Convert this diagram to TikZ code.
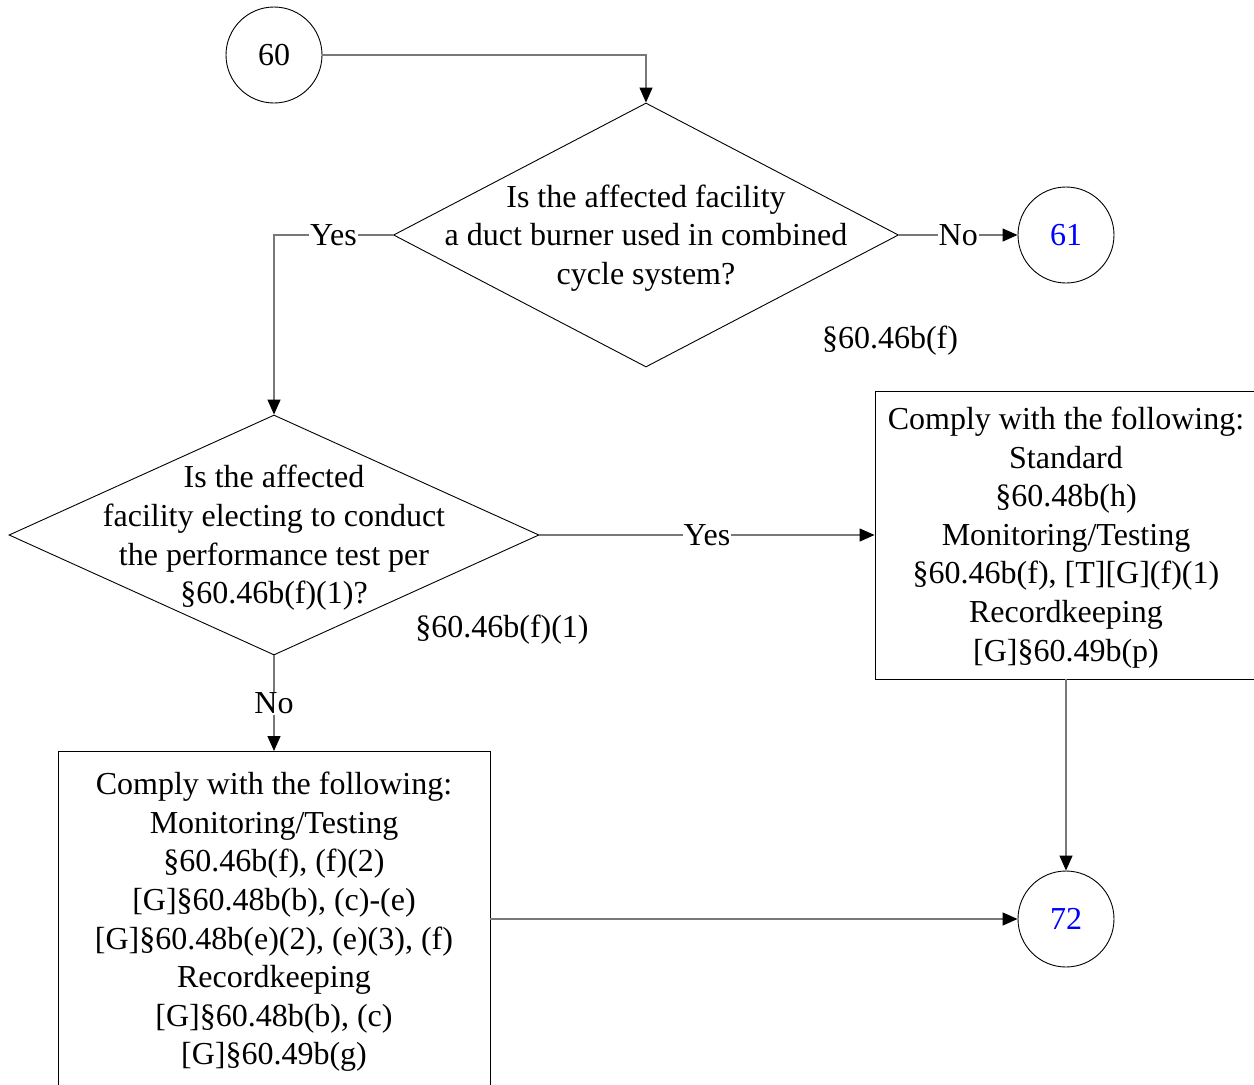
\documentclass[tikz,border=0pt]{standalone}
\usepackage{fontspec}
\setmainfont{Liberation Serif}
\usetikzlibrary{shapes.geometric,arrows.meta}
\definecolor{conn}{RGB}{120,120,120}
\definecolor{numblue}{RGB}{0,0,255}
\begin{document}
\begin{tikzpicture}[x=1pt,y=-1pt,
  every node/.style={font=\fontsize{32}{38.6}\selectfont},
  term/.style={circle,draw=black,line width=0.9pt,minimum size=96pt,inner sep=0pt},
  dec/.style={diamond,draw=black,line width=0.9pt,inner sep=0pt},
  boxnode/.style={rectangle,draw=black,line width=0.9pt,align=center,inner sep=0pt},
  txt/.style={align=center,inner sep=0pt},
  conn/.style={draw=conn,line width=1.3pt,-{Triangle[length=15pt,width=13pt,color=black]}},
  lbl/.style={fill=white,inner sep=1pt}]
\useasboundingbox (0,0) rectangle (1254,1085);
\clip (0,0) rectangle (1254,1085);

% nodes
\node[term] (c60) at (274,55) {60};
\node[dec,minimum width=505pt,minimum height=264pt] (d1) at (646,235) {};
\node[txt] (t1) at (646,238) {Is the affected facility\\a duct burner used in combined\\cycle system?};
\node[term,text=numblue] (c61) at (1066,235) {61};
\node[txt] (r1) at (890,341) {§60.46b(f)};

\node[dec,minimum width=530pt,minimum height=240pt] (d2) at (274,535) {};
\node[txt] (t2) at (274,538) {Is the affected\\facility electing to conduct\\the performance test per\\§60.46b(f)(1)?};
\node[txt] (r2) at (502,630) {§60.46b(f)(1)};

\node[boxnode,minimum width=382pt,minimum height=288pt] (b1) at (1066,535) {};
\node[txt] (t4) at (1066,537.5)
  {Comply with the following:\\Standard\\§60.48b(h)\\Monitoring/Testing\\§60.46b(f), [T][G](f)(1)\\Recordkeeping\\{}[G]§60.49b(p)};

\node[boxnode,minimum width=432pt,minimum height=380pt,anchor=north] (b2) at (274,751) {};
\node[txt] (t3) at (274,922) {Comply with the following:\\Monitoring/Testing\\§60.46b(f), (f)(2)\\{}[G]§60.48b(b), (c)-(e)\\{}[G]§60.48b(e)(2), (e)(3), (f)\\Recordkeeping\\{}[G]§60.48b(b), (c)\\{}[G]§60.49b(g)};

\node[term,text=numblue] (c72) at (1066,919) {72};

% connectors
\draw[conn] (c60.east) -| (d1.north);
\draw[conn] (d1.west) -| node[lbl,pos=0.25] {Yes} (d2.north);
\draw[conn] (d1.east) -- node[lbl] {No} (c61.west);
\draw[conn] (d2.east) -- node[lbl] {Yes} (b1.west);
\draw[conn] (d2.south) -- node[lbl] {No} (b2.north);
\draw[conn] (b1.south) -- (c72.north);
\draw[conn] (c72.west -| b2.east) -- (c72.west);
\end{tikzpicture}
\end{document}
